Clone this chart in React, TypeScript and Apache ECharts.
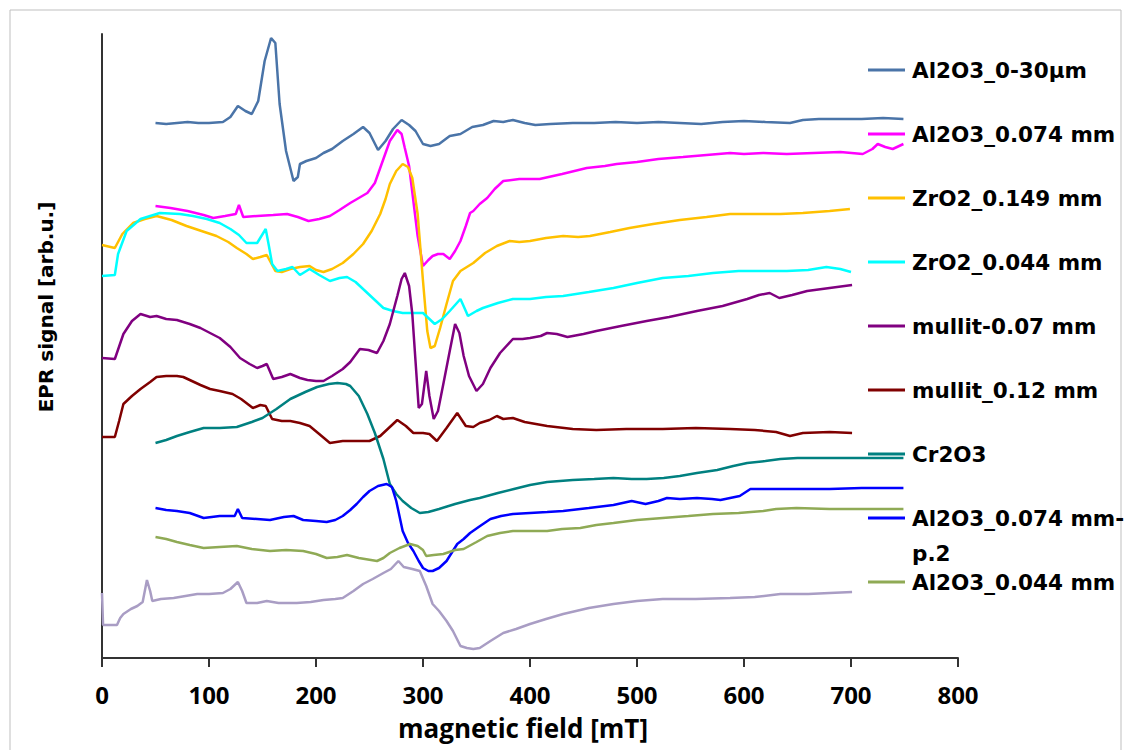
import React, { useEffect, useRef } from "react";
import * as echarts from "echarts";

const xAxisTitle = "magnetic field [mT]";
const yAxisTitle = "EPR signal [arb.u.]";

const seriesNames = [
  "Al2O3_0-30µm",
  "Al2O3_0.074 mm",
  "ZrO2_0.149 mm",
  "ZrO2_0.044 mm",
  "mullit-0.07 mm",
  "mullit_0.12 mm",
  "Cr2O3",
  "Al2O3_0.074 mm-p.2",
  "Al2O3_0.044 mm",
  "unlabelled",
];

const seriesColors = [
  "#4A74A8",
  "#FF00FF",
  "#FFC000",
  "#00FFFF",
  "#800080",
  "#800000",
  "#008080",
  "#0000FF",
  "#8FAA55",
  "#A99DC4",
];

// [magnetic field (mT), EPR signal (arb. u.)]
const al2o3_0_30um = [
  [50, 535], [60, 534], [70, 535], [80, 536], [90, 535], [100, 535], [113, 536], [120, 541],
  [127, 552], [134, 547], [140, 544], [146, 557], [152, 597], [158, 620], [162, 615], [166, 554],
  [172, 507], [179, 477], [183, 481], [185, 494], [191, 497], [200, 500], [207, 505], [215, 509],
  [225, 517], [235, 524], [244, 531], [250, 525], [258, 508], [265, 517], [272, 529], [280, 538],
  [287, 533], [293, 527], [300, 514], [307, 512], [315, 514], [325, 522], [335, 524], [346, 531],
  [356, 533], [366, 537], [375, 536], [384, 538], [395, 535], [405, 533], [419, 534], [440, 535],
  [460, 535], [480, 536], [500, 535], [520, 536], [540, 535], [560, 534], [580, 536], [600, 537],
  [620, 536], [643, 535], [655, 538], [670, 539], [690, 539], [710, 539], [730, 540], [749, 539],
];

const al2o3_0074 = [
  [50, 452], [64, 450], [80, 447], [95, 443], [104, 440], [115, 442], [125, 444], [128, 453],
  [132, 441], [145, 442], [160, 443], [173, 444], [183, 441], [193, 437], [203, 439], [213, 442],
  [222, 448], [232, 455], [240, 460], [248, 465], [255, 475], [260, 490], [265, 505], [269, 517],
  [276, 528], [280, 524], [283, 510], [287, 492], [291, 457], [295, 422], [300, 392], [305, 398],
  [309, 402], [314, 404], [319, 404], [325, 399], [330, 407], [335, 417], [340, 432], [344, 445],
  [347, 447], [353, 454], [360, 460], [367, 469], [375, 477], [390, 479], [409, 479], [430, 484],
  [453, 490], [470, 492], [481, 494], [500, 496], [520, 499], [543, 501], [565, 503], [587, 505],
  [600, 504], [618, 505], [640, 504], [665, 505], [690, 506], [711, 504], [720, 509], [725, 514],
  [732, 511], [739, 509], [745, 512], [749, 514],
];

const zro2_0149 = [
  [0, 413], [12, 410], [19, 424], [29, 435], [40, 439], [51, 442], [65, 438], [79, 432],
  [93, 427], [107, 422], [118, 416], [126, 410], [135, 404], [141, 399], [148, 401], [154, 403],
  [158, 395], [162, 387], [168, 386], [176, 389], [185, 391], [194, 392], [200, 388], [207, 386],
  [215, 389], [225, 395], [235, 404], [244, 414], [252, 427], [260, 444], [265, 459], [269, 474],
  [275, 487], [281, 494], [286, 491], [290, 480], [295, 444], [300, 377], [304, 327], [307, 310],
  [311, 312], [316, 330], [322, 354], [328, 377], [335, 387], [341, 391], [347, 395], [358, 405],
  [369, 412], [381, 417], [390, 416], [400, 417], [415, 420], [431, 422], [445, 421], [456, 422],
  [475, 426], [493, 430], [515, 434], [540, 438], [565, 441], [587, 444], [610, 444], [634, 444],
  [655, 445], [680, 447], [699, 449],
];

const zro2_0044 = [
  [0, 382], [12, 383], [15, 404], [23, 427], [36, 439], [54, 445], [73, 444], [85, 442],
  [98, 439], [110, 435], [120, 429], [128, 423], [135, 415], [145, 415], [153, 429], [156, 412],
  [159, 394], [164, 387], [172, 389], [178, 391], [185, 383], [194, 389], [203, 383], [213, 377],
  [222, 380], [229, 381], [237, 376], [244, 369], [253, 360], [263, 350], [272, 347], [281, 345],
  [290, 345], [300, 345], [306, 339], [311, 334], [318, 339], [325, 347], [330, 353], [335, 359],
  [340, 347], [342, 342], [350, 347], [356, 350], [370, 355], [384, 359], [400, 359], [415, 361],
  [431, 362], [455, 366], [478, 370], [500, 375], [524, 380], [548, 382], [571, 385], [595, 387],
  [618, 387], [640, 387], [660, 388], [677, 391], [690, 389], [700, 386],
];

const mullit_007 = [
  [0, 300], [12, 299], [20, 324], [28, 337], [36, 344], [45, 341], [51, 342], [60, 339],
  [70, 338], [82, 334], [92, 330], [101, 325], [110, 320], [120, 311], [129, 300], [138, 294],
  [145, 290], [150, 292], [154, 294], [160, 279], [168, 281], [176, 284], [185, 280], [192, 278],
  [200, 277], [207, 277], [215, 282], [225, 289], [232, 296], [241, 309], [249, 308], [257, 305],
  [263, 317], [269, 334], [276, 362], [280, 379], [283, 385], [287, 372], [290, 344], [293, 297],
  [296, 250], [299, 254], [303, 287], [306, 262], [310, 239], [314, 247], [319, 274], [325, 307],
  [330, 334], [334, 325], [338, 302], [343, 282], [350, 267], [356, 274], [363, 290], [372, 305],
  [384, 319], [393, 319], [400, 320], [410, 322], [416, 325], [425, 324], [435, 321], [450, 324],
  [462, 327], [485, 332], [509, 337], [530, 341], [556, 347], [580, 352], [603, 359], [614, 363],
  [624, 365], [633, 360], [645, 363], [659, 367], [680, 370], [701, 373],
];

const mullit_012 = [
  [0, 221], [12, 221], [16, 237], [20, 254], [28, 262], [36, 269], [45, 276], [51, 281],
  [60, 282], [70, 282], [76, 281], [82, 278], [92, 273], [101, 269], [110, 267], [122, 264],
  [130, 259], [141, 250], [148, 253], [153, 252], [159, 239], [168, 237], [176, 237], [185, 235],
  [194, 232], [203, 224], [213, 215], [225, 217], [238, 217], [250, 217], [260, 222], [268, 230],
  [276, 238], [284, 232], [291, 225], [300, 225], [306, 224], [313, 217], [322, 230], [332, 245],
  [340, 232], [347, 231], [353, 235], [362, 238], [369, 242], [375, 239], [384, 240], [395, 236],
  [416, 232], [440, 229], [462, 228], [490, 229], [524, 229], [555, 230], [587, 229], [610, 228],
  [630, 226], [643, 222], [655, 225], [680, 226], [701, 225],
];

const cr2o3 = [
  [50, 215], [60, 218], [70, 222], [82, 226], [95, 230], [110, 230], [126, 231], [140, 236],
  [150, 240], [163, 249], [176, 259], [190, 266], [201, 271], [212, 274], [220, 275], [228, 274],
  [232, 272], [240, 262], [248, 244], [255, 225], [263, 199], [269, 174], [275, 164], [281, 157],
  [289, 150], [297, 145], [305, 146], [315, 149], [330, 154], [344, 158], [353, 160], [370, 165],
  [385, 169], [400, 173], [416, 176], [440, 178], [460, 179], [478, 180], [495, 179], [509, 179],
  [525, 180], [540, 182], [556, 185], [575, 188], [590, 192], [603, 195], [620, 197], [634, 199],
  [650, 200], [665, 200], [700, 200], [730, 200], [749, 200],
];

const al2o3_0074_p2 = [
  [50, 150], [60, 148], [70, 147], [82, 145], [95, 140], [110, 142], [124, 142], [127, 149],
  [131, 140], [145, 139], [157, 138], [170, 141], [179, 142], [188, 138], [200, 137], [210, 136],
  [218, 138], [225, 142], [232, 148], [238, 154], [244, 161], [250, 167], [258, 172], [266, 174],
  [271, 171], [275, 157], [281, 127], [286, 115], [291, 107], [296, 97], [300, 90], [305, 87],
  [309, 87], [315, 90], [322, 97], [332, 114], [338, 119], [344, 125], [352, 131], [363, 139],
  [373, 142], [384, 144], [400, 145], [416, 146], [431, 147], [455, 150], [478, 153], [495, 157],
  [508, 154], [520, 157], [528, 160], [540, 159], [556, 160], [570, 159], [578, 158], [596, 162],
  [606, 169], [630, 169], [649, 169], [680, 169], [710, 170], [749, 170],
];

const al2o3_0044 = [
  [50, 121], [60, 119], [70, 116], [82, 113], [95, 110], [110, 111], [126, 112], [140, 109],
  [157, 107], [172, 108], [188, 107], [200, 104], [210, 100], [220, 101], [229, 103], [240, 100],
  [257, 97], [263, 100], [269, 105], [278, 110], [288, 114], [295, 112], [300, 108], [303, 102],
  [310, 103], [319, 104], [330, 108], [338, 109], [350, 116], [360, 122], [372, 125], [384, 127],
  [400, 127], [416, 127], [430, 129], [447, 130], [462, 133], [478, 135], [500, 138], [524, 140],
  [548, 142], [571, 144], [595, 145], [618, 147], [630, 149], [649, 150], [680, 149], [710, 149],
  [749, 149],
];

const unlabelled = [
  [0, 65], [1, 33], [14, 33], [17, 40], [20, 44], [27, 49], [33, 52], [38, 56],
  [42, 78], [45, 67], [47, 57], [55, 59], [67, 60], [78, 62], [89, 64], [100, 64],
  [113, 65], [120, 69], [127, 76], [131, 67], [135, 55], [145, 55], [154, 57], [165, 55],
  [182, 55], [195, 56], [207, 58], [218, 59], [225, 60], [235, 67], [244, 74], [253, 79],
  [263, 85], [270, 89], [277, 97], [282, 91], [290, 89], [297, 87], [303, 72], [309, 54],
  [315, 47], [322, 37], [328, 27], [335, 12], [341, 10], [347, 9], [353, 10], [363, 17],
  [375, 25], [387, 29], [400, 34], [415, 39], [431, 44], [455, 50], [478, 54], [500, 57],
  [524, 59], [555, 59], [587, 60], [610, 61], [634, 64], [660, 64], [680, 65], [701, 66],
];

const seriesData = [
  al2o3_0_30um,
  al2o3_0074,
  zro2_0149,
  zro2_0044,
  mullit_007,
  mullit_012,
  cr2o3,
  al2o3_0074_p2,
  al2o3_0044,
  unlabelled,
];

const legendNames = seriesNames.slice(0, 9);

export default function App() {
  const ref = useRef<HTMLDivElement>(null);

  useEffect(() => {
    document.body.style.margin = "0";
    if (!ref.current) return;
    const chart = echarts.init(ref.current, null, { renderer: "svg" });
    const axisColor = "#333333";
    const legendFont = "DejaVu Sans";

    chart.setOption({
      animation: false,
      backgroundColor: "#ffffff",
      grid: { left: 102, top: 34, right: 166, bottom: 92, containLabel: false },
      xAxis: {
        type: "value",
        min: 0,
        max: 800,
        interval: 100,
        name: xAxisTitle,
        nameLocation: "middle",
        nameGap: 52,
        nameTextStyle: {
          fontFamily: "Open Sans",
          fontWeight: "bold",
          fontSize: 26,
          color: "#000",
          lineHeight: 30,
          padding: [0, 14, 0, 0],
        },
        axisLine: { show: true, lineStyle: { color: axisColor, width: 2 } },
        axisTick: { show: true, inside: false, length: 9, lineStyle: { color: axisColor, width: 2 } },
        axisLabel: {
          fontFamily: "Open Sans",
          fontWeight: "bold",
          fontSize: 24,
          color: "#000",
          lineHeight: 28,
          margin: 22,
        },
        splitLine: { show: false },
      },
      yAxis: {
        type: "value",
        min: 0,
        max: 624,
        axisLine: { show: true, onZero: false, lineStyle: { color: axisColor, width: 2 } },
        axisTick: { show: false },
        axisLabel: { show: false },
        splitLine: { show: false },
      },
      legend: {
        data: legendNames,
        orient: "vertical",
        left: 868,
        top: 58,
        padding: 0,
        itemWidth: 37,
        itemHeight: 3,
        itemGap: 40,
        icon: "rect",
        formatter: (name: string) => (name === "Al2O3_0.074 mm-p.2" ? "Al2O3_0.074 mm-" : name),
        textStyle: {
          fontFamily: legendFont,
          fontWeight: "bold",
          fontSize: 21.5,
          color: "#000",
          lineHeight: 24,
          padding: [0, 0, 0, 2],
        },
      },
      graphic: [
        {
          type: "rect",
          shape: { x: 10, y: 10, width: 1111, height: 760 },
          style: { fill: "none", stroke: "#BFBFBF", lineWidth: 1 },
          silent: true,
        },
        {
          type: "text",
          x: 46,
          y: 307,
          rotation: Math.PI / 2,
          style: {
            text: yAxisTitle,
            font: "bold 20px 'DejaVu Sans'",
            fill: "#000",
            align: "center",
            verticalAlign: "middle",
          },
        },
        {
          type: "text",
          x: 912,
          y: 553,
          style: {
            text: "p.2",
            font: "bold 21.5px 'DejaVu Sans'",
            fill: "#000",
            align: "left",
            verticalAlign: "middle",
          },
        },
      ],
      series: seriesData.map((d, i) => ({
        name: seriesNames[i],
        type: "line",
        data: d,
        showSymbol: false,
        symbol: "none",
        smooth: false,
        color: seriesColors[i],
        lineStyle: { color: seriesColors[i], width: 2.5 },
        z: 2,
      })),
    });

    return () => {
      chart.dispose();
    };
  }, []);

  return <div ref={ref} style={{ width: 1124, height: 750 }} />;
}
